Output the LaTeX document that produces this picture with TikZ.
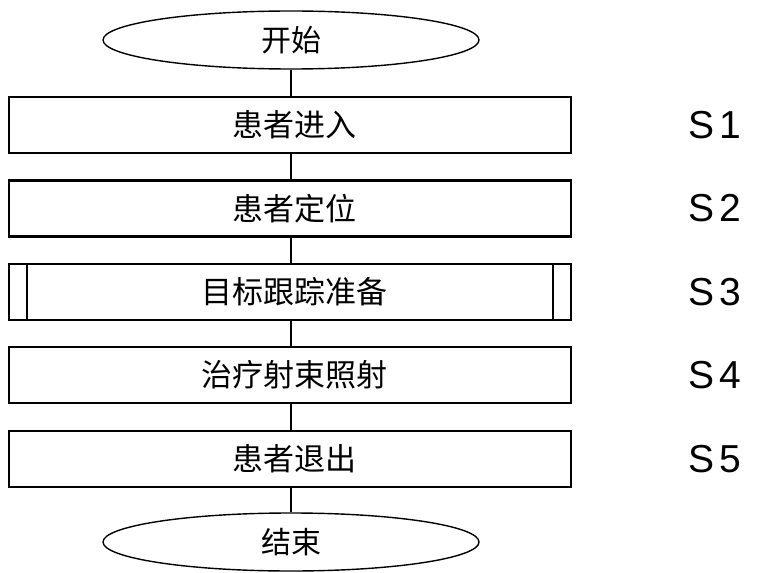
\documentclass[tikz,border=0pt]{standalone}
\usepackage{fontspec}
\newfontfamily\cjk{Noto Sans CJK SC}
\newfontfamily\lab{Liberation Sans}
\usetikzlibrary{shapes.geometric}
\newcommand{\pushr}{\hspace*{9pt}}
\begin{document}
\begin{tikzpicture}[x=1pt,y=-1pt,
  stepbox/.style={draw,line width=2.2pt,minimum width=562pt,minimum height=56pt,inner sep=0pt,font=\cjk\fontsize{31}{31}\selectfont},
  term/.style={draw,ellipse,line width=1.4pt,minimum width=376pt,minimum height=58pt,inner sep=0pt,font=\cjk\fontsize{30}{30}\selectfont},
  steplab/.style={font=\lab\fontsize{39}{39}\selectfont,anchor=center},
  conn/.style={line width=1.6pt}]
\useasboundingbox (0,0) rectangle (759,572);
\node[term] (start) at (291,40) {开始};
\node[stepbox] (s1) at (290,125) {\pushr 患者进入};
\node[stepbox] (s2) at (290,208.4) {\pushr 患者定位};
\node[stepbox] (s3) at (290,291.8) {\pushr 目标跟踪准备};
\node[stepbox] (s4) at (290,375.2) {\pushr 治疗射束照射};
\node[stepbox] (s5) at (290,458.6) {\pushr 患者退出};
\node[term] (end) at (291,542) {结束};
\draw[line width=1.4pt] ([xshift=19pt]s3.north west) -- ([xshift=19pt]s3.south west);
\draw[line width=1.4pt] ([xshift=-19pt]s3.north east) -- ([xshift=-19pt]s3.south east);
\draw[conn] (start.south) -- (s1.north -| start.south);
\draw[conn] (s1.south -| start.south) -- (s2.north -| start.south);
\draw[conn] (s2.south -| start.south) -- (s3.north -| start.south);
\draw[conn] (s3.south -| start.south) -- (s4.north -| start.south);
\draw[conn] (s4.south -| start.south) -- (s5.north -| start.south);
\draw[conn] (s5.south -| start.south) -- (end.north);
\node[steplab] (l1) at (715,125) {S\hspace{5pt}1};
\node[steplab] (l2) at (715,208.4) {S\hspace{5pt}2};
\node[steplab] (l3) at (715,291.8) {S\hspace{5pt}3};
\node[steplab] (l4) at (715,375.2) {S\hspace{5pt}4};
\node[steplab] (l5) at (715,458.6) {S\hspace{5pt}5};
\end{tikzpicture}
\end{document}
